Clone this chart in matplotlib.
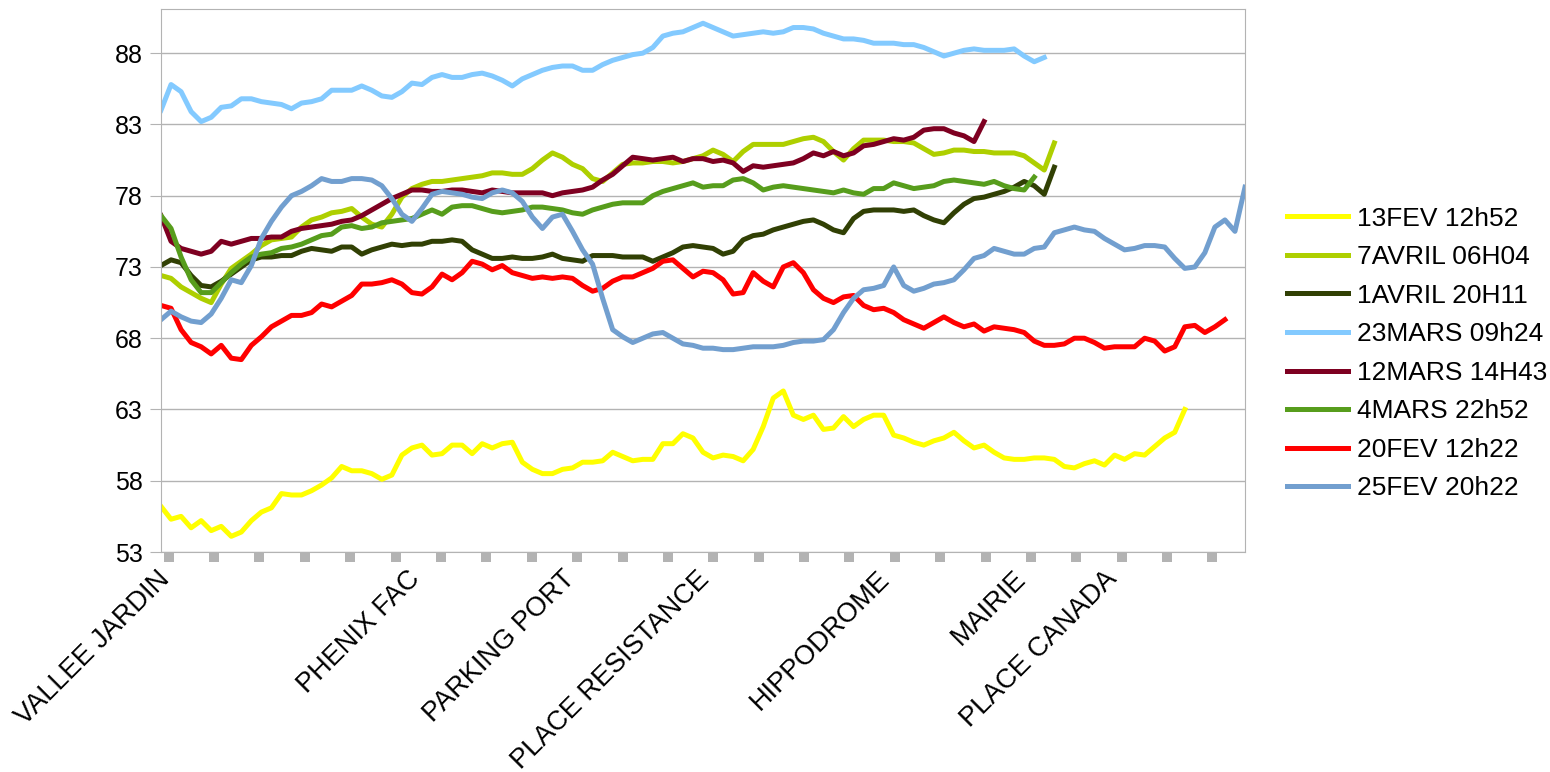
import numpy as np
import matplotlib.pyplot as plt
from matplotlib.transforms import blended_transform_factory

plt.rcParams['font.family'] = ['Liberation Sans', 'DejaVu Sans']

# stops along the route (label positions are in sample index units)
stop_names = ["VALLEE JARDIN", "PHENIX FAC", "PARKING PORT", "PLACE RESISTANCE",
              "HIPPODROME", "MAIRIE", "PLACE CANADA"]
stop_pos = [-0.4, 24.5, 39.9, 53.3, 71.3, 84.9, 93.9]

# one reading per sample along the route, for each run
fev13 = [56.2, 55.3, 55.5, 54.7, 55.2, 54.5, 54.8, 54.1, 54.4, 55.2,
         55.8, 56.1, 57.1, 57.0, 57.0, 57.3, 57.7, 58.2, 59.0, 58.7,
         58.7, 58.5, 58.1, 58.4, 59.8, 60.3, 60.5, 59.8, 59.9, 60.5,
         60.5, 59.9, 60.6, 60.3, 60.6, 60.7, 59.3, 58.8, 58.5, 58.5,
         58.8, 58.9, 59.3, 59.3, 59.4, 60.0, 59.7, 59.4, 59.5, 59.5,
         60.6, 60.6, 61.3, 61.0, 60.0, 59.6, 59.8, 59.7, 59.4, 60.2,
         61.8, 63.8, 64.3, 62.6, 62.3, 62.6, 61.6, 61.7, 62.5, 61.8,
         62.3, 62.6, 62.6, 61.2, 61.0, 60.7, 60.5, 60.8, 61.0, 61.4,
         60.8, 60.3, 60.5, 60.0, 59.6, 59.5, 59.5, 59.6, 59.6, 59.5,
         59.0, 58.9, 59.2, 59.4, 59.1, 59.8, 59.5, 59.9, 59.8, 60.4,
         61.0, 61.4, 63.0]
avril7 = [72.4, 72.2, 71.6, 71.2, 70.8, 70.5, 71.8, 72.9, 73.4, 73.9,
          74.5, 74.9, 75.0, 75.1, 75.8, 76.3, 76.5, 76.8, 76.9, 77.1,
          76.5, 76.0, 75.8, 76.7, 77.9, 78.5, 78.8, 79.0, 79.0, 79.1,
          79.2, 79.3, 79.4, 79.6, 79.6, 79.5, 79.5, 79.9, 80.5, 81.0,
          80.7, 80.2, 79.9, 79.2, 79.0, 79.6, 80.2, 80.3, 80.3, 80.4,
          80.4, 80.3, 80.4, 80.6, 80.8, 81.2, 80.9, 80.4, 81.1, 81.6,
          81.6, 81.6, 81.6, 81.8, 82.0, 82.1, 81.8, 81.1, 80.5, 81.3,
          81.9, 81.9, 81.9, 81.8, 81.8, 81.7, 81.3, 80.9, 81.0, 81.2,
          81.2, 81.1, 81.1, 81.0, 81.0, 81.0, 80.8, 80.3, 79.8, 81.7]
avril1 = [73.1, 73.5, 73.3, 72.4, 71.7, 71.6, 72.0, 72.5, 73.0, 73.5,
          73.7, 73.7, 73.8, 73.8, 74.1, 74.3, 74.2, 74.1, 74.4, 74.4,
          73.9, 74.2, 74.4, 74.6, 74.5, 74.6, 74.6, 74.8, 74.8, 74.9,
          74.8, 74.2, 73.9, 73.6, 73.6, 73.7, 73.6, 73.6, 73.7, 73.9,
          73.6, 73.5, 73.4, 73.8, 73.8, 73.8, 73.7, 73.7, 73.7, 73.4,
          73.7, 74.0, 74.4, 74.5, 74.4, 74.3, 73.9, 74.1, 74.9, 75.2,
          75.3, 75.6, 75.8, 76.0, 76.2, 76.3, 76.0, 75.6, 75.4, 76.4,
          76.9, 77.0, 77.0, 77.0, 76.9, 77.0, 76.6, 76.3, 76.1, 76.8,
          77.4, 77.8, 77.9, 78.1, 78.3, 78.6, 79.0, 78.7, 78.1, 80.0]
mars23 = [84.0, 85.8, 85.3, 83.9, 83.2, 83.5, 84.2, 84.3, 84.8, 84.8,
          84.6, 84.5, 84.4, 84.1, 84.5, 84.6, 84.8, 85.4, 85.4, 85.4,
          85.7, 85.4, 85.0, 84.9, 85.3, 85.9, 85.8, 86.3, 86.5, 86.3,
          86.3, 86.5, 86.6, 86.4, 86.1, 85.7, 86.2, 86.5, 86.8, 87.0,
          87.1, 87.1, 86.8, 86.8, 87.2, 87.5, 87.7, 87.9, 88.0, 88.4,
          89.2, 89.4, 89.5, 89.8, 90.1, 89.8, 89.5, 89.2, 89.3, 89.4,
          89.5, 89.4, 89.5, 89.8, 89.8, 89.7, 89.4, 89.2, 89.0, 89.0,
          88.9, 88.7, 88.7, 88.7, 88.6, 88.6, 88.4, 88.1, 87.8, 88.0,
          88.2, 88.3, 88.2, 88.2, 88.2, 88.3, 87.8, 87.4, 87.7]
mars12 = [76.6, 74.8, 74.3, 74.1, 73.9, 74.1, 74.8, 74.6, 74.8, 75.0,
          75.0, 75.1, 75.1, 75.5, 75.7, 75.8, 75.9, 76.0, 76.2, 76.3,
          76.6, 77.0, 77.4, 77.8, 78.1, 78.4, 78.4, 78.3, 78.3, 78.4,
          78.4, 78.3, 78.2, 78.4, 78.3, 78.2, 78.2, 78.2, 78.2, 78.0,
          78.2, 78.3, 78.4, 78.6, 79.1, 79.5, 80.1, 80.7, 80.6, 80.5,
          80.6, 80.7, 80.4, 80.6, 80.6, 80.4, 80.5, 80.3, 79.7, 80.1,
          80.0, 80.1, 80.2, 80.3, 80.6, 81.0, 80.8, 81.1, 80.8, 81.0,
          81.5, 81.6, 81.8, 82.0, 81.9, 82.1, 82.6, 82.7, 82.7, 82.4,
          82.2, 81.8, 83.2]
mars4 = [76.6, 75.7, 73.7, 72.1, 71.2, 71.2, 71.9, 72.6, 73.2, 73.7,
         73.9, 74.0, 74.3, 74.4, 74.6, 74.9, 75.2, 75.3, 75.8, 75.9,
         75.7, 75.8, 76.1, 76.2, 76.3, 76.4, 76.7, 77.0, 76.7, 77.2,
         77.3, 77.3, 77.1, 76.9, 76.8, 76.9, 77.0, 77.2, 77.2, 77.1,
         77.0, 76.8, 76.7, 77.0, 77.2, 77.4, 77.5, 77.5, 77.5, 78.0,
         78.3, 78.5, 78.7, 78.9, 78.6, 78.7, 78.7, 79.1, 79.2, 78.9,
         78.4, 78.6, 78.7, 78.6, 78.5, 78.4, 78.3, 78.2, 78.4, 78.2,
         78.1, 78.5, 78.5, 78.9, 78.7, 78.5, 78.6, 78.7, 79.0, 79.1,
         79.0, 78.9, 78.8, 79.0, 78.7, 78.5, 78.4, 79.3]
fev20 = [70.3, 70.1, 68.6, 67.7, 67.4, 66.9, 67.5, 66.6, 66.5, 67.5,
         68.1, 68.8, 69.2, 69.6, 69.6, 69.8, 70.4, 70.2, 70.6, 71.0,
         71.8, 71.8, 71.9, 72.1, 71.8, 71.2, 71.1, 71.6, 72.5, 72.1,
         72.6, 73.4, 73.2, 72.8, 73.1, 72.6, 72.4, 72.2, 72.3, 72.2,
         72.3, 72.2, 71.7, 71.3, 71.5, 72.0, 72.3, 72.3, 72.6, 72.9,
         73.4, 73.5, 72.9, 72.3, 72.7, 72.6, 72.1, 71.1, 71.2, 72.6,
         72.0, 71.6, 73.0, 73.3, 72.6, 71.4, 70.8, 70.5, 70.9, 71.0,
         70.3, 70.0, 70.1, 69.8, 69.3, 69.0, 68.7, 69.1, 69.5, 69.1,
         68.8, 69.0, 68.5, 68.8, 68.7, 68.6, 68.4, 67.8, 67.5, 67.5,
         67.6, 68.0, 68.0, 67.7, 67.3, 67.4, 67.4, 67.4, 68.0, 67.8,
         67.1, 67.4, 68.8, 68.9, 68.4, 68.8, 69.3]
fev25 = [69.3, 69.9, 69.5, 69.2, 69.1, 69.7, 70.8, 72.1, 71.9, 73.1,
         75.0, 76.2, 77.2, 78.0, 78.3, 78.7, 79.2, 79.0, 79.0, 79.2,
         79.2, 79.1, 78.7, 77.8, 76.7, 76.2, 77.1, 78.1, 78.3, 78.2,
         78.1, 77.9, 77.8, 78.2, 78.4, 78.2, 77.6, 76.5, 75.7, 76.5,
         76.7, 75.5, 74.2, 73.2, 70.8, 68.6, 68.1, 67.7, 68.0, 68.3,
         68.4, 68.0, 67.6, 67.5, 67.3, 67.3, 67.2, 67.2, 67.3, 67.4,
         67.4, 67.4, 67.5, 67.7, 67.8, 67.8, 67.9, 68.6, 69.8, 70.8,
         71.4, 71.5, 71.7, 73.0, 71.7, 71.3, 71.5, 71.8, 71.9, 72.1,
         72.8, 73.6, 73.8, 74.3, 74.1, 73.9, 73.9, 74.3, 74.4, 75.4,
         75.6, 75.8, 75.6, 75.5, 75.0, 74.6, 74.2, 74.3, 74.5, 74.5,
         74.4, 73.6, 72.9, 73.0, 74.0, 75.8, 76.3, 75.5, 78.6]

runs = [
    ("13FEV 12h52", fev13, "#ffff00"),
    ("7AVRIL 06H04", avril7, "#aecf00"),
    ("1AVRIL 20H11", avril1, "#314004"),
    ("23MARS 09h24", mars23, "#83caff"),
    ("12MARS 14H43", mars12, "#7e0021"),
    ("4MARS 22h52", mars4, "#579d1c"),
    ("20FEV 12h22", fev20, "#ff0000"),
    ("25FEV 20h22", fev25, "#729fcf"),
]

fig = plt.figure(figsize=(15.5, 7.72), dpi=100)
ax = fig.add_axes([161 / 1550, 1 - 552 / 772, 1084 / 1550, 543 / 772])

for name, vals, col in runs:
    ax.plot(np.arange(len(vals)), vals, color=col, lw=3.6, label=name,
            solid_joinstyle="round")

ax.set_xlim(0, 108)
ax.set_ylim(53, 91.1)
ax.set_yticks(range(53, 89, 5))
ax.yaxis.grid(True, color="#b3b3b3", lw=1)
ax.set_axisbelow(True)
for sp in ax.spines.values():
    sp.set_color("#b3b3b3")

ax.tick_params(axis="y", length=8, color="#b3b3b3", labelsize=18, pad=5)
# square interval marks under the axis
ax.set_xticks(0.77 + 4.521 * np.arange(24))
ax.tick_params(axis="x", length=7.2, width=7.2, color="#b3b3b3", labelbottom=False)

trans = blended_transform_factory(ax.transData, ax.transAxes)
for pos, name in zip(stop_pos, stop_names):
    ax.text(pos, -0.026, name, rotation=45, ha="right", va="top",
            rotation_mode="anchor", transform=trans, fontsize=19.5)

fig.legend(loc="center left", bbox_to_anchor=(1287 / 1550, 1 - 353.5 / 772),
           frameon=False, fontsize=19, handlelength=2.3, handletextpad=0.35,
           labelspacing=0.55, borderpad=0, borderaxespad=0)

plt.savefig("out.png", dpi=100)
